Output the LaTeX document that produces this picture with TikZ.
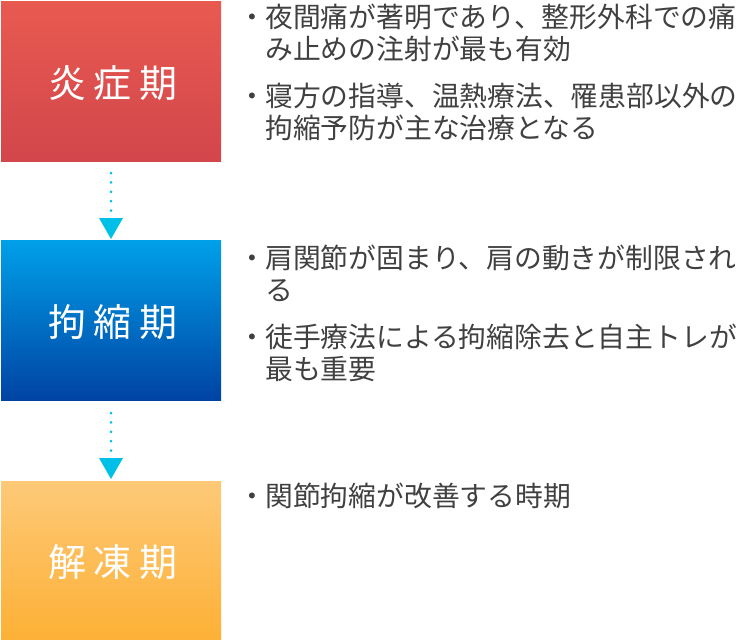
\documentclass[tikz,border=0pt]{standalone}
\usepackage{fontspec}
\newfontfamily\cjk{Noto Sans CJK JP}
\definecolor{txt}{HTML}{404040}
\definecolor{arr}{HTML}{00C0E8}
\definecolor{rtop}{HTML}{E85A50}
\definecolor{rbot}{HTML}{D2464C}
\definecolor{btop}{HTML}{00A0E9}
\definecolor{bbot}{HTML}{0043A3}
\definecolor{otop}{HTML}{FDC978}
\definecolor{obot}{HTML}{FDB035}
\tikzset{
  stage/.style={draw=none, minimum width=220pt, minimum height=160pt, inner sep=0pt, anchor=north west},
  title/.style={text=white, font=\cjk\fontsize{38}{38}\selectfont, inner sep=0pt},
  line/.style={text=txt, font=\cjk\fontsize{27.8}{32}\selectfont, inner sep=0pt, anchor=base west},
  bul/.style={text=txt, font=\cjk\fontsize{27.8}{32}\selectfont, inner sep=0pt, anchor=base west},
  flow/.style={arr, line width=3pt, line cap=round, dash pattern=on 0pt off 9.4pt},
}
\newcommand{\ttl}[3]{#1\hspace{8pt}#2\hspace{8pt}#3}
\begin{document}
\begin{tikzpicture}[x=1pt,y=-1pt]
\useasboundingbox (0,0) rectangle (740,640);
\node[stage, top color=rtop, bottom color=rbot] (s1) at (1,1) {};
\node[stage, top color=btop, bottom color=bbot] (s2) at (1,240) {};
\node[stage, top color=otop, bottom color=obot] (s3) at (1,481) {};
\node[title] (t1) at (113,83) {\ttl{炎}{症}{期}};
\node[title] (t2) at (113,322) {\ttl{拘}{縮}{期}};
\node[title] (t3) at (113,562) {\ttl{解}{凍}{期}};
% arrows
\coordinate (a1s) at (111,173);
\coordinate (a1e) at (111,212);
\coordinate (a2s) at (111,413);
\coordinate (a2e) at (111,452);
\draw[flow] (a1s) -- (a1e);
\draw[flow] (a2s) -- (a2e);
\fill[arr] (99,218) -- (123,218) -- (111,239) -- cycle;
\fill[arr] (99,458) -- (123,458) -- (111,479) -- cycle;
% texts
\node[bul] (b1) at (238,27) {・};
\node[line] (l1a) at (265,27) {夜間痛が著明であり、整形外科での痛};
\node[line] (l1b) at (265,59) {み止めの注射が最も有効};
\node[bul] (b2) at (238,106) {・};
\node[line] (l2a) at (265,106) {寝方の指導、温熱療法、罹患部以外の};
\node[line] (l2b) at (265,138) {拘縮予防が主な治療となる};
\node[bul] (b3) at (238,268) {・};
\node[line] (l3a) at (265,268) {肩関節が固まり、肩の動きが制限され};
\node[line] (l3b) at (265,300) {る};
\node[bul] (b4) at (238,347) {・};
\node[line] (l4a) at (265,347) {徒手療法による拘縮除去と自主トレが};
\node[line] (l4b) at (265,379) {最も重要};
\node[bul] (b5) at (238,506) {・};
\node[line] (l5a) at (265,506) {関節拘縮が改善する時期};
\end{tikzpicture}
\end{document}
